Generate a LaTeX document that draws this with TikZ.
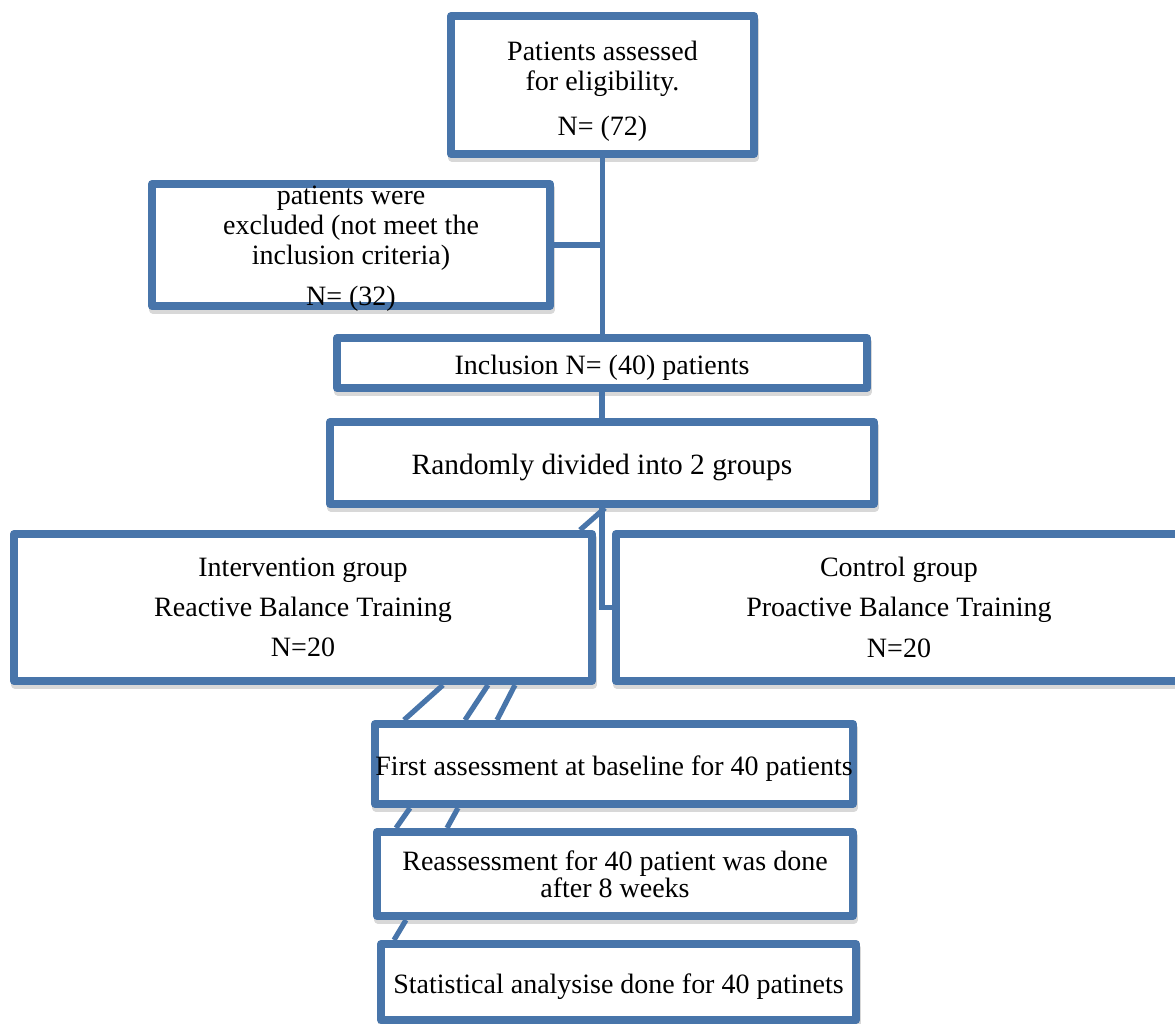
\documentclass[tikz,border=0pt]{standalone}
\usepackage{fontspec}
\setmainfont{Liberation Serif}
\usetikzlibrary{positioning}
\usetikzlibrary{calc}
\usetikzlibrary{shadows}
\definecolor{boxblue}{RGB}{72,117,170}
\tikzset {
  % box of the flow chart
  stage/.style = {
    draw = boxblue,
    fill = white,
    line width = 4pt,
    line join = round,
    inner xsep = 0pt,
    inner ysep = 2pt,
    align = center,
    font = \fontsize{14}{15}\selectfont,
    drop shadow = {shadow xshift = 0.4pt, shadow yshift = -1.8pt,
      opacity = .22, fill = black!70, draw = black!70}
  },
  % box with one line of text
  oneline/.style = {
    stage,
    text height = 11pt,
    text depth = 0pt
  },
  % line between boxes
  link/.style = {
    draw = boxblue,
    line width = 2.6pt
  }
}
\begin{document}
\begin{tikzpicture}[x=0.5pt,y=-0.5pt]
    \useasboundingbox (0,0) rectangle (1175,1024);

    \node[stage, minimum width=151.5pt, minimum height=69pt] (assess) at (602.5,85)
      {\rule{0pt}{16pt}Patients assessed\\ for eligibility.\\[7.5pt] N= (72)};
    \node[stage, minimum width=199pt, minimum height=61pt, inner ysep=-6pt] (excluded) at (351,245)
      {\rule{0pt}{13pt}patients were\\ excluded (not meet the\\ inclusion criteria)\\[5.5pt] N= (32)};
    \node[oneline, minimum width=265pt, minimum height=25pt] (inclusion) at (602,363)
      {Inclusion N= (40) patients};
    \node[oneline, minimum width=272pt, minimum height=41pt, font=\fontsize{14.7}{15}\selectfont] (random) at (602,463)
      {Randomly divided into 2 groups};
    \node[stage, minimum width=289pt, minimum height=73.5pt] (interv-group) at (303,607.5)
      {Intervention group\\[5pt] Reactive Balance Training\\[5pt] N=20};
    \node[stage, minimum width=283pt, minimum height=73.5pt] (ctrl-group) at (899,607.5)
      {Control group\\[5pt] Proactive Balance Training\\[5.5pt] N=20};
    \node[oneline, minimum width=239pt, minimum height=40pt] (first-assess) at (614,764)
      {First assessment at baseline for 40 patients};
    \node[stage, minimum width=238pt, minimum height=42pt] (re-assess) at (615,874)
      {Reassessment for 40 patient was done\\[-1.5pt] after 8 weeks};
    \node[oneline, minimum width=237.5pt, minimum height=38pt] (stat-analysis) at (618.5,982)
      {Statistical analysise done for 40 patinets};

    \draw[link] (assess.south) -- (assess.south |- inclusion.north);
    \draw[link] (excluded.east) -- (excluded.east -| assess.south);
    \draw[link] (inclusion.south) -- (random.north);
    \draw[link] ($(random.south)+(3,0)$) -- ($(interv-group.north east)+(-16,0)$);
    \draw[link] (random.south) |- (ctrl-group.west);

    \draw[link] ($(interv-group.south west)+(433,0)$) -- ($(first-assess.north west)+(33,0)$);
    \draw[link] ($(interv-group.south west)+(478,0)$) -- ($(first-assess.north west)+(94,0)$);
    \draw[link] ($(interv-group.south west)+(505,0)$) -- ($(first-assess.north west)+(126,0)$);
    \draw[link] ($(first-assess.south west)+(39,0)$) -- ($(re-assess.north west)+(23,0)$);
    \draw[link] ($(first-assess.south west)+(87,0)$) -- ($(re-assess.north west)+(74,0)$);
    \draw[link] ($(re-assess.south west)+(33,0)$) -- ($(stat-analysis.north west)+(17,0)$);
  \end{tikzpicture}
\end{document}
